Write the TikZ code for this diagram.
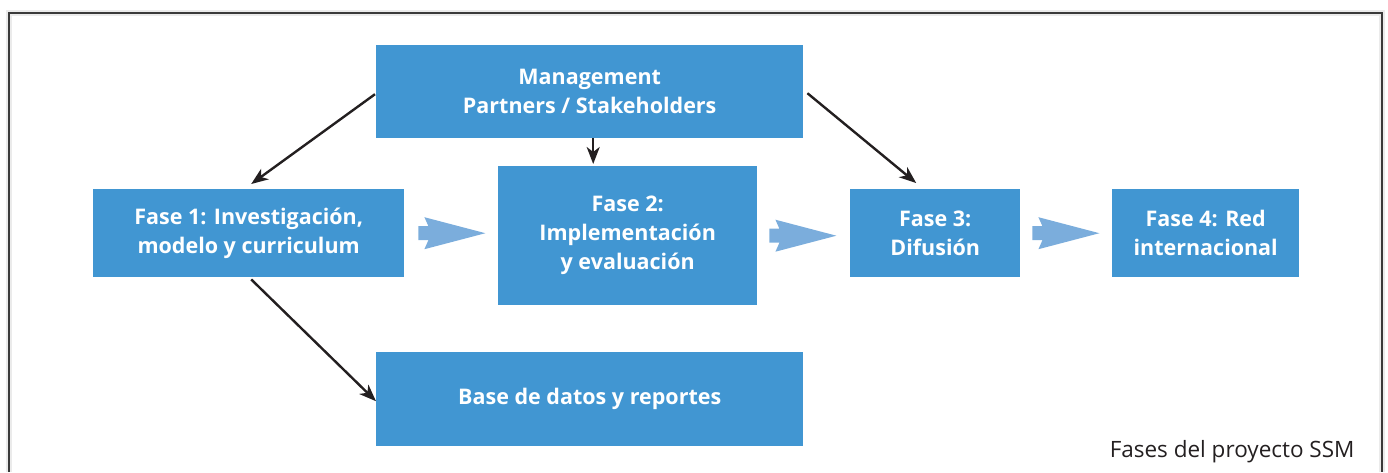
\documentclass[tikz,border=0pt]{standalone}
\usepackage{fontspec}
\setmainfont{Open Sans}
\usetikzlibrary{arrows.meta,calc}
\definecolor{boxblue}{HTML}{4196D2}
\definecolor{arrblue}{HTML}{7BADDC}
\definecolor{framegray}{HTML}{3A3A3A}
\definecolor{captiongray}{HTML}{231F20}
\tikzset{
  box/.style={fill=boxblue, text=white, font=\fontsize{21.5}{29}\selectfont\bfseries, align=center, inner sep=0pt, anchor=north west},
  conn/.style={draw=captiongray, line width=2.4pt, -{Stealth[length=17pt, width=13pt, inset=5pt]}},
  blockarrow/.pic={\fill[arrblue] (0,-7) -- (10,-7) -- (6,-16) -- (67,0) -- (6,16) -- (10,7) -- (0,7) -- cycle;}
}
\begin{document}
\begin{tikzpicture}[x=1pt, y=-1pt]
\useasboundingbox (0,0) rectangle (1388,472);
% frame
\draw[black!8, line width=6pt] (9,472) -- (9,13) -- (1382,13) -- (1382,472);
\draw[framegray, line width=1.8pt] (9,472) -- (9,13) -- (1382,13) -- (1382,472);
% boxes
\node[box, minimum width=427pt, minimum height=93pt] (mgmt) at (376,45) {Management\\Partners / Stakeholders};
\node[box, minimum width=311pt, minimum height=88pt] (f1) at (93,189) {Fase 1: Investigación,\\modelo y curriculum};
\node[box, minimum width=259pt, minimum height=139pt] (f2) at (498,166) {Fase 2:\\Implementación\\y evaluación};
\node[box, minimum width=170pt, minimum height=88pt] (f3) at (850,189) {Fase 3:\\Difusión};
\node[box, minimum width=187pt, minimum height=88pt] (f4) at (1112,189) {Fase 4: Red\\internacional};
\node[box, minimum width=427pt, minimum height=94pt] (db) at (376,352) {Base de datos y reportes};
% block arrows
\pic at ($(f1.east)+(14,0)$) {blockarrow};
\pic at ($(f2.east)+(12,0)$) {blockarrow};
\pic at ($(f3.east)+(12,0)$) {blockarrow};
% connectors
\draw[conn] ([xshift=-1pt,yshift=-2.5pt]mgmt.west) -- ([xshift=2.5pt,yshift=5pt]f1.north);
\draw[conn] ([xshift=3.5pt]mgmt.south) -- ([xshift=3.5pt,yshift=2pt]mgmt.south |- f2.north);
\draw[conn] ([xshift=4pt,yshift=-1.5pt]mgmt.east) -- ([xshift=-19pt,yshift=6pt]f3.north);
\draw[conn] ([xshift=2.5pt,yshift=-2pt]f1.south) -- ([yshift=-2pt]db.west);
% caption
\node[anchor=base east, text=captiongray, font=\fontsize{22.5}{26}\selectfont] (cap) at (1358,457) {Fases del proyecto SSM};
\end{tikzpicture}
\end{document}
